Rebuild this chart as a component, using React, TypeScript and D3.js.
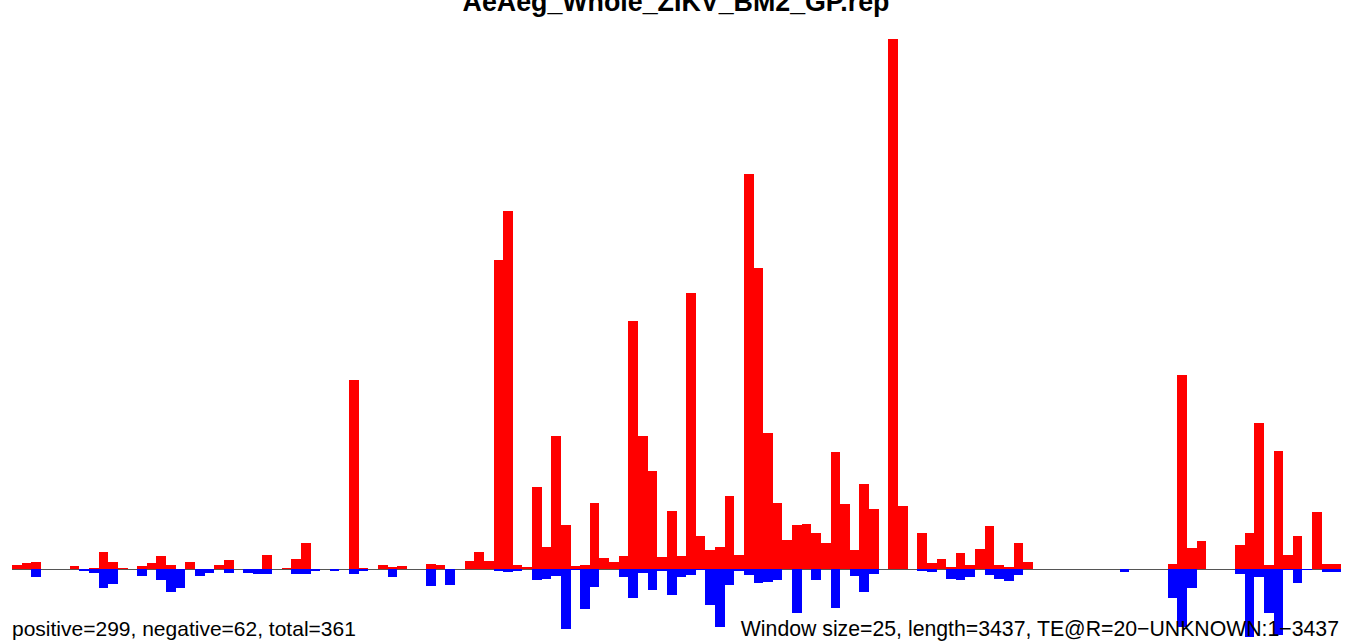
import React from "react";
import * as d3 from "d3";

const title = "AeAeg_Whole_ZIKV_BM2_GP.rep";
const leftNote = "positive=299, negative=62, total=361";
const rightNote = "Window size=25, length=3437, TE@R=20\u2212UNKNOWN:1\u22123437";

// 138 windows of 25 bp along 3437 bp
const positive: number[] = [
  4.3, 6.3, 7.3, 0, 0, 0, 3.3, 0, 1.7, 17.3,
  7.3, 1, 0, 3.3, 6.3, 13.3, 4.3, 0, 7.3, 0,
  0, 4.3, 9.3, 0, 0, 0, 14.7, 0, 1.3, 10.3,
  26.3, 0, 0, 0, 0, 189, 1.3, 0, 4.3, 2.3,
  3.3, 0, 0, 5.3, 4.7, 0, 0, 8.3, 17.3, 8.3,
  309, 358, 4.3, 2.3, 82, 22.3, 133, 44.3, 3.3, 4.3,
  66, 11.3, 7.3, 13.7, 248, 133, 98, 12.3, 58, 13.7,
  276, 33.7, 19.3, 22.3, 73, 14.7, 395, 301, 136, 66,
  29.3, 44.3, 45.3, 36.3, 26.3, 117, 65, 19.3, 85, 60,
  0.7, 530, 63, 0, 36.3, 6.3, 10.3, 2.3, 16.3, 4.3,
  20.3, 43.3, 4.3, 2.3, 26.3, 7.3, 0.7, 0, 0, 0,
  0, 0, 0, 0, 0, 0, 0, 0, 0.7, 0,
  5.3, 194, 21.3, 28.3, 0, 0, 0, 24.3, 36.3, 146,
  4.3, 118, 14.3, 33.3, 0, 57, 5, 5,
];

const negative: number[] = [
  0, 0, 7.3, 0, 0, 0, 0, 1.7, 3.3, 18.3,
  14.3, 0, 0, 6.3, 0, 10.7, 22.3, 18.3, 0, 6.3,
  3.3, 0, 3.3, 0, 3.3, 4.3, 4.3, 0, 0, 4.3,
  4.3, 1.3, 0, 1.3, 0, 4.3, 1.3, 0, 0, 7.3,
  0, 0, 0, 16.3, 0, 15.3, 0, 0, 0, 0,
  1.3, 2.3, 1.3, 0, 10.7, 9.7, 6.3, 59.3, 0.7, 39.7,
  17.3, 0, 0, 7.3, 28.3, 3.3, 20.3, 1.3, 25.3, 7.3,
  5.3, 0.7, 35.3, 57.3, 15.3, 1.3, 5.3, 13.3, 12.3, 10.3,
  0, 43.3, 0, 10.3, 0, 38.3, 0, 6.3, 22.3, 4.3,
  0, 0, 0, 0, 1.3, 2.3, 0, 9.3, 10.3, 7.3,
  0, 5.3, 9.3, 11.3, 5.3, 0, 0, 0, 0, 0,
  0, 0, 0, 0, 0, 2.3, 0, 0, 0, 0,
  28.3, 57.7, 18.3, 0, 0, 0, 0, 5, 68, 7.7,
  43.3, 66, 1, 13.7, 0.3, 0, 2.7, 2.7,
];

const W = 1349;
const H = 641;
const left = 12;
const right = 1341;
const baseY = 569.3;
const topY = 39;

export default function App() {
  const idx = d3.range(positive.length);
  const x = d3.scaleBand<number>().domain(idx).range([left, right]).paddingInner(0).paddingOuter(0);
  const maxV = d3.max(positive) as number;
  const y = d3.scaleLinear().domain([-maxV, maxV]).range([baseY + (baseY - topY), topY]);
  const font = "'Liberation Sans', Arial, Helvetica, sans-serif";
  return (
    <svg
      width={W}
      height={H}
      style={{ position: "absolute", left: 0, top: 0, background: "#fff" }}
    >
      <line x1={left} x2={right} y1={569.5} y2={569.5} stroke="#555" strokeWidth={1} />
      <g shapeRendering="crispEdges">
        {idx.map((i) =>
          positive[i] > 0 ? (
            <rect
              key={"p" + i}
              x={x(i)}
              width={x.bandwidth()}
              y={y(positive[i])}
              height={y(0) - y(positive[i])}
              fill="#ff0000"
            />
          ) : null
        )}
        {idx.map((i) =>
          negative[i] > 0 ? (
            <rect
              key={"n" + i}
              x={x(i)}
              width={x.bandwidth()}
              y={y(0)}
              height={y(-negative[i]) - y(0)}
              fill="#0000ff"
            />
          ) : null
        )}
      </g>
      <text x={676} y={11} textAnchor="middle" fontFamily={font} fontWeight="bold" fontSize={26.8} fill="#000">
        {title}
      </text>
      <text x={12} y={636} fontFamily={font} fontSize={21} fill="#000">
        {leftNote}
      </text>
      <text x={1339} y={636} textAnchor="end" fontFamily={font} fontSize={21.25} fill="#000">
        {rightNote}
      </text>
    </svg>
  );
}
